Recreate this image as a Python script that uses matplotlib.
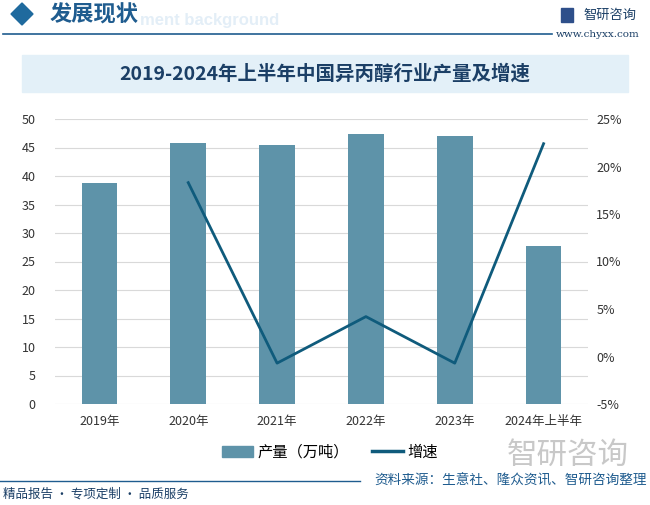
import numpy as np
import matplotlib.pyplot as plt
from matplotlib.patches import Rectangle, Polygon
from matplotlib.lines import Line2D

plt.rcParams['font.family'] = ['Noto Sans CJK SC', 'DejaVu Sans']

# 数据
years = ['2019年', '2020年', '2021年', '2022年', '2023年', '2024年上半年']
output = [38.8, 45.8, 45.4, 47.4, 47.0, 27.7]          # 产量（万吨）
growth = [None, 18.3, -0.7, 4.2, -0.7, 22.4]           # 增速（%）

bar_color = '#5E93A9'
line_color = '#0F5B7C'
navy = '#1B3F66'

fig = plt.figure(figsize=(6.5, 5.05), dpi=100)
W, H = 650, 505

def fx(x):
    return x / W

def fy(y):
    return 1 - y / H

# 页眉
fig.text(fx(140), fy(20), 'ment background', fontsize=12, fontweight='bold',
         color='#E3EEF7', va='center', ha='left', family='Liberation Sans')
fig.patches.append(Polygon([(fx(11), fy(14)), (fx(22), fy(3)), (fx(33), fy(14)), (fx(22), fy(25))],
                           closed=True, transform=fig.transFigure, color='#1F6A9E'))
fig.text(fx(50), fy(15), '发展现状', fontsize=16, fontweight='bold', color='#1F5C8F', va='center')
fig.lines.append(Line2D([fx(3), fx(552)], [fy(34), fy(34)], transform=fig.transFigure,
                        color='#1F5C8F', lw=1.2))
fig.text(fx(583), fy(15), '智研咨询', fontsize=9.5, color=navy, va='center')
fig.patches.append(Rectangle((fx(561), fy(22)), fx(12), 14 / H, transform=fig.transFigure,
                             color='#2E4F8A'))
fig.text(fx(598), fy(34), 'www.chyxx.com', fontsize=7.5, color=navy, va='center', ha='center',
         family='DejaVu Serif')

# 标题
fig.patches.append(Rectangle((fx(22), fy(92)), fx(606), 37 / H, transform=fig.transFigure,
                             color='#E3F0F8', zorder=0))
fig.text(0.5, fy(74), '2019-2024年上半年中国异丙醇行业产量及增速', fontsize=14,
         fontweight='bold', color=navy, ha='center', va='center')

# 主图
ax = fig.add_axes([fx(55), fy(404), fx(533), (404 - 119) / H])
x = np.arange(len(years))
ax.bar(x, output, width=0.4, color=bar_color, zorder=2, label='产量（万吨）')
ax.set_xlim(-0.5, len(years) - 0.5)
ax.set_ylim(0, 50)
ax.set_yticks(np.arange(0, 51, 5))
ax.set_xticks(x)
ax.set_xticklabels(years)
ax.yaxis.grid(True, color='#D9D9D9', lw=0.8, zorder=0)
for s in ax.spines.values():
    s.set_visible(False)
ax.tick_params(length=0, labelsize=9, colors='#333333')
ax.tick_params(axis='x', pad=8)
ax.tick_params(axis='y', pad=14)

ax2 = ax.twinx()
gx = [i for i, g in enumerate(growth) if g is not None]
gy = [g for g in growth if g is not None]
ax2.plot(gx, gy, color=line_color, lw=2, label='增速', zorder=3)
ax2.set_ylim(-5, 25)
ax2.set_yticks(np.arange(-5, 26, 5))
ax2.set_yticklabels([f'{v}%' for v in range(-5, 26, 5)])
for s in ax2.spines.values():
    s.set_visible(False)
ax2.tick_params(length=0, labelsize=9, colors='#333333', pad=6)

handles = [Rectangle((0, 0), 1, 1, color=bar_color),
           Line2D([], [], color=line_color, lw=2.5)]
fig.legend(handles, ['产量（万吨）', '增速'], loc='center', bbox_to_anchor=(fx(330), fy(452)),
           ncol=2, frameon=False, fontsize=11, handlelength=2.0, handletextpad=0.3,
           columnspacing=1.5)

# 水印与页脚
fig.text(fx(568), fy(455), '智研咨询', fontsize=22, color='#C8C8C8', ha='center', va='center')
fig.lines.append(Line2D([0, fx(360)], [fy(481), fy(481)], transform=fig.transFigure,
                        color='#1F5C8F', lw=1))
fig.text(fx(3), fy(494), '精品报告 · 专项定制 · 品质服务', fontsize=9, color=navy, va='center')
fig.text(fx(647), fy(481), '资料来源：生意社、隆众资讯、智研咨询整理', fontsize=9.8,
         color='#1F5C8F', va='center', ha='right')

fig.savefig('out.png', dpi=100)
